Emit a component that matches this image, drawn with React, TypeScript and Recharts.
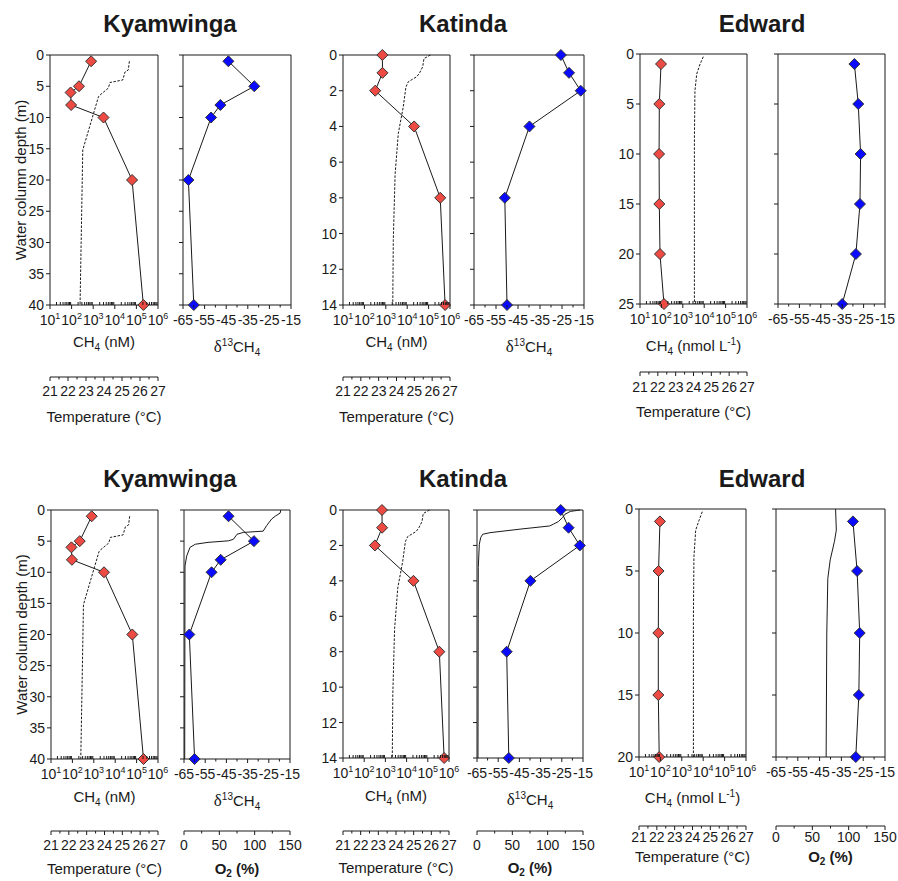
import type { ReactNode } from 'react';
import { ScatterChart, Scatter, XAxis, YAxis, ReferenceLine, Label } from 'recharts';

const FONT = 'Arial, "Liberation Sans", Helvetica, sans-serif';
const INK = '#1a1a1a';
const RED = '#ee4a44';
const BLUE = '#0a0aff';

// ---- Kyamwinga
const kyamCh4Depth = [1, 5, 6, 8, 10, 20, 40];
const kyamCh4 = [800, 220, 90, 95, 3000, 63000, 210000];
const kyamD13Depth = [1, 5, 8, 10, 20, 40];
const kyamD13 = [-44, -32, -47.7, -52, -62.5, -60];
const kyamTempDepth = [1, 2.4, 2.7, 4, 4.4, 5.3, 6.4, 6.7, 15.2, 40];
const kyamTemp = [25.41, 25.35, 25.17, 25.04, 24.33, 24.24, 23.78, 23.69, 22.82, 22.67];
const kyamO2Depth = [0, 0.5, 1, 1.45, 2.5, 3.4, 3.6, 3.9, 4.7, 4.95, 5.2, 5.5, 6, 7.4, 9, 40];
const kyamO2 = [137, 136, 129, 124, 117, 112, 84, 75, 70, 63, 34, 16, 8.5, 3.8, 1.4, 1];

// ---- Katinda
const katDepth = [0, 1, 2, 4, 8, 14];
const katCh4 = [690, 700, 320, 21000, 350000, 590000];
const katD13 = [-25.5, -21.8, -16.5, -39.8, -51, -50];
const katTempDepth = [0, 0.2, 0.66, 1.03, 1.22, 1.5, 1.79, 2.9, 4.4, 6.7, 10.4, 14];
const katTemp = [25.9, 25.54, 25.47, 25.28, 25.13, 24.66, 24.53, 24.38, 24.1, 23.92, 23.82, 23.79];
const katO2Depth = [0, 0.08, 0.24, 0.43, 0.66, 0.8, 0.9, 1.08, 1.28, 1.37, 1.56, 1.93, 3.24, 14];
const katO2 = [146, 132, 124.5, 121, 115, 108, 103, 61, 18.4, 8, 5.2, 3.3, 1.8, 1.4];

// ---- Edward
const edTopDepth = [1, 5, 10, 15, 20, 25];
const edTopCh4 = [96, 80, 78, 80, 86, 132];
const edTopD13 = [-29.3, -27.5, -26.4, -26.7, -28.6, -35];
const edTopTempDepth = [0.27, 1, 2, 3.7, 8.7, 25];
const edBotDepth = [1, 5, 10, 15, 20];
const edBotCh4 = [95, 82, 80, 80, 88];
const edBotD13 = [-29.7, -27.8, -26.6, -27, -28.4];
const edBotTempDepth = [0.22, 0.9, 1.7, 3.85, 9, 20];
const edTemp = [24.55, 24.37, 24.18, 24.08, 24.05, 24.05];
const edO2Depth = [0, 1.7, 2.6, 4.1, 5.6, 10, 20];
const edO2 = [82, 83, 80.5, 74.6, 71.3, 69.9, 69];

// ---- ticks
const kyamYTicks = [0, 5, 10, 15, 20, 25, 30, 35, 40];
const katYTicks = [0, 2, 4, 6, 8, 10, 12, 14];
const edTopYTicks = [0, 5, 10, 15, 20, 25];
const edBotYTicks = [0, 5, 10, 15, 20];
const ch4Major = [10, 100, 1000, 10000, 100000, 1000000];
const d13Major = [-65, -55, -45, -35, -25, -15];
const tempMajor = [21, 22, 23, 24, 25, 26, 27];
const o2Major = [0, 50, 100, 150];

const ch4Ticks: number[] = [];
for (let e = 1; e <= 5; e++) for (let k = 1; k <= 9; k++) ch4Ticks.push(k * 10 ** e);
ch4Ticks.push(1000000);
const d13Ticks = [-65, -60, -55, -50, -45, -40, -35, -30, -25, -20, -15];
const tempTicks = [21, 21.5, 22, 22.5, 23, 23.5, 24, 24.5, 25, 25.5, 26, 26.5, 27];
const o2Ticks = [0, 25, 50, 75, 100, 125, 150];

const txt = { fontFamily: FONT, fill: INK };

const pts = (depth: number[], vals: number[]) => depth.map((d, i) => ({ d, v: vals[i] }));

function Diamond(props: any) {
  const { cx, cy, fill } = props;
  const r = 5.5;
  return (
    <polygon
      points={`${cx},${cy - r} ${cx + r},${cy} ${cx},${cy + r} ${cx - r},${cy}`}
      fill={fill}
      stroke="#333"
      strokeWidth={1}
    />
  );
}

const NoDot = () => <g />;
const DiamondShape = (p: any) => <Diamond {...p} />;

function LogTick({ x, y, payload }: any) {
  const idx = ch4Major.indexOf(payload.value);
  if (idx < 0) return <line x1={x} x2={x} y1={y} y2={y - 3} stroke={INK} />;
  return (
    <g>
      <line x1={x} x2={x} y1={y} y2={y + 4} stroke={INK} />
      <text x={x} y={y + 20} textAnchor="middle" fontSize={14} {...txt}>
        10<tspan dy={-6} fontSize={9}>{idx + 1}</tspan>
      </text>
    </g>
  );
}

const linTick = (majors: number[], dy: number) => ({ x, y, payload }: any) => {
  const major = majors.includes(payload.value);
  return (
    <g>
      <line x1={x} x2={x} y1={y} y2={y + (major ? 4 : 2.5)} stroke={INK} />
      {major && (
        <text x={x} y={y + dy} textAnchor="middle" fontSize={14} {...txt}>
          {payload.value}
        </text>
      )}
    </g>
  );
};

const yTick = (labels: boolean) => ({ x, y, payload }: any) => (
  <g>
    <line x1={x - 4} x2={x} y1={y} y2={y} stroke={INK} />
    {labels && (
      <text x={x - 6} y={y + 5} textAnchor="end" fontSize={14} {...txt}>
        {payload.value}
      </text>
    )}
  </g>
);

const axisTitle = (node: ReactNode, dy: number, bold = false) => (props: any) => {
  const vb = props.viewBox;
  return (
    <text x={vb.x + vb.width / 2} y={vb.y + dy} textAnchor="middle" fontSize={15} fontWeight={bold ? 700 : 400} {...txt}>
      {node}
    </text>
  );
};

const depthTitle = (props: any) => {
  const vb = props.viewBox;
  const cx = vb.x + 20;
  const cy = vb.y + vb.height / 2;
  return (
    <text x={cx} y={cy} transform={`rotate(-90 ${cx} ${cy})`} textAnchor="middle" dominantBaseline="central" fontSize={15} {...txt}>
      Water column depth (m)
    </text>
  );
};

const CH4_NM = (
  <>
    CH<tspan dy={4} fontSize={10}>4</tspan>
    <tspan dy={-4}> (nM)</tspan>
  </>
);
const CH4_NMOL = (
  <>
    CH<tspan dy={4} fontSize={10}>4</tspan>
    <tspan dy={-4}> (nmol L</tspan>
    <tspan dy={-6} fontSize={10}>-1</tspan>
    <tspan dy={6}>)</tspan>
  </>
);
const D13 = (
  <>
    <tspan fontFamily='"Liberation Serif", "DejaVu Serif", serif' fontSize={17}>δ</tspan>
    <tspan dy={-6} fontSize={10}>13</tspan>
    <tspan dy={6}>CH</tspan>
    <tspan dy={4} fontSize={10}>4</tspan>
  </>
);
const O2_PCT = (
  <>
    O<tspan dy={3} fontSize={10}>2</tspan>
    <tspan dy={-3}> (%)</tspan>
  </>
);

type Sub = {
  x: number; y: number; w: number; h: number;
  kind: 'ch4' | 'd13';
  yTicks: number[]; yLabels: boolean; yTitle?: boolean;
  depth: number[]; vals: number[];
  exDepth?: number[]; exVals?: number[];
  gap: number; mainDy: number; exTickDy?: number; exTitleDy?: number;
  title: ReactNode;
};

function Profile({ c }: { c: Sub }) {
  const YW = c.kind === 'ch4' ? 50 : 10;
  const mTop = 10;
  const mRight = 12;
  const hasEx = !!c.exDepth;
  const exH = hasEx ? 52 : 0;
  const width = YW + c.w + mRight;
  const height = mTop + c.h + c.gap + exH;
  const isCh4 = c.kind === 'ch4';
  const yMax = c.yTicks[c.yTicks.length - 1];
  const xMax = isCh4 ? 1000000 : -15;

  return (
    <div style={{ position: 'absolute', left: c.x - YW, top: c.y - mTop }}>
      <ScatterChart width={width} height={height} margin={{ top: mTop, right: mRight, bottom: 0, left: 0 }}>
        <XAxis
          xAxisId={0}
          type="number"
          dataKey="v"
          scale={isCh4 ? 'log' : 'linear'}
          domain={isCh4 ? [10, 1000000] : [-65, -15]}
          ticks={isCh4 ? ch4Ticks : d13Ticks}
          interval={0}
          tickLine={false}
          tickSize={0}
          tickMargin={0}
          height={c.gap}
          axisLine={{ stroke: INK }}
          tick={isCh4 ? LogTick : linTick(d13Major, 20)}
          label={<Label content={axisTitle(c.title, c.mainDy)} />}
        />
        {hasEx && (
          <XAxis
            xAxisId={1}
            type="number"
            dataKey="v"
            domain={isCh4 ? [21, 27] : [0, 150]}
            ticks={isCh4 ? tempTicks : o2Ticks}
            interval={0}
            tickLine={false}
            tickSize={0}
            tickMargin={0}
            height={exH}
            axisLine={{ stroke: INK }}
            tick={linTick(isCh4 ? tempMajor : o2Major, c.exTickDy ?? 19)}
            label={
              <Label
                content={axisTitle(isCh4 ? 'Temperature (°C)' : O2_PCT, c.exTitleDy ?? 45, !isCh4)}
              />
            }
          />
        )}
        <YAxis
          yAxisId={0}
          type="number"
          dataKey="d"
          domain={[0, yMax]}
          reversed
          ticks={c.yTicks}
          interval={0}
          width={YW}
          tickLine={false}
          tickSize={0}
          tickMargin={0}
          axisLine={{ stroke: INK }}
          tick={yTick(c.yLabels)}
          label={c.yTitle ? <Label content={depthTitle} /> : undefined}
        />
        <ReferenceLine xAxisId={0} yAxisId={0} y={0} stroke={INK} strokeWidth={1} />
        <ReferenceLine xAxisId={0} yAxisId={0} x={xMax} stroke={INK} strokeWidth={1} />
        {hasEx && (
          <Scatter
            data={pts(c.exDepth!, c.exVals!)}
            xAxisId={1}
            yAxisId={0}
            fill="none"
            shape={NoDot}
            line={{
              stroke: INK,
              strokeWidth: 1,
              strokeDasharray: isCh4 ? '2.5 1.5' : undefined,
            }}
            isAnimationActive={false}
          />
        )}
        <Scatter
          data={pts(c.depth, c.vals)}
          xAxisId={0}
          yAxisId={0}
          fill={isCh4 ? RED : BLUE}
          shape={DiamondShape}
          line={{ stroke: INK, strokeWidth: 1 }}
          isAnimationActive={false}
        />
      </ScatterChart>
    </div>
  );
}

const SUBS: Sub[] = [
  // top row
  { x: 50, y: 55, w: 108, h: 250, kind: 'ch4', yTicks: kyamYTicks, yLabels: true, yTitle: true,
    depth: kyamCh4Depth, vals: kyamCh4, exDepth: kyamTempDepth, exVals: kyamTemp,
    gap: 72, mainDy: 42, exTickDy: 19, exTitleDy: 45, title: CH4_NM },
  { x: 183, y: 55, w: 108, h: 250, kind: 'd13', yTicks: kyamYTicks, yLabels: false,
    depth: kyamD13Depth, vals: kyamD13, gap: 60, mainDy: 47, title: D13 },
  { x: 343, y: 55, w: 107, h: 250, kind: 'ch4', yTicks: katYTicks, yLabels: true,
    depth: katDepth, vals: katCh4, exDepth: katTempDepth, exVals: katTemp,
    gap: 72, mainDy: 42, exTickDy: 19, exTitleDy: 45, title: CH4_NM },
  { x: 474, y: 55, w: 110, h: 250, kind: 'd13', yTicks: katYTicks, yLabels: false,
    depth: katDepth, vals: katD13, gap: 60, mainDy: 47, title: D13 },
  { x: 640, y: 54, w: 107, h: 250, kind: 'ch4', yTicks: edTopYTicks, yLabels: true,
    depth: edTopDepth, vals: edTopCh4, exDepth: edTopTempDepth, exVals: edTemp,
    gap: 68, mainDy: 47, exTickDy: 20, exTitleDy: 45, title: CH4_NMOL },
  { x: 778, y: 54, w: 107, h: 250, kind: 'd13', yTicks: edTopYTicks, yLabels: false,
    depth: edTopDepth, vals: edTopD13, gap: 60, mainDy: 47, title: null },
  // bottom row
  { x: 51, y: 510, w: 107, h: 249, kind: 'ch4', yTicks: kyamYTicks, yLabels: true, yTitle: true,
    depth: kyamCh4Depth, vals: kyamCh4, exDepth: kyamTempDepth, exVals: kyamTemp,
    gap: 72, mainDy: 43, exTickDy: 19, exTitleDy: 43, title: CH4_NM },
  { x: 184, y: 510, w: 106, h: 249, kind: 'd13', yTicks: kyamYTicks, yLabels: false,
    depth: kyamD13Depth, vals: kyamD13, exDepth: kyamO2Depth, exVals: kyamO2,
    gap: 72, mainDy: 47, exTickDy: 19, exTitleDy: 43, title: D13 },
  { x: 343, y: 510, w: 106, h: 248, kind: 'ch4', yTicks: katYTicks, yLabels: true,
    depth: katDepth, vals: katCh4, exDepth: katTempDepth, exVals: katTemp,
    gap: 73, mainDy: 43, exTickDy: 19, exTitleDy: 42, title: CH4_NM },
  { x: 477, y: 510, w: 106, h: 248, kind: 'd13', yTicks: katYTicks, yLabels: false,
    depth: katDepth, vals: katD13, exDepth: katO2Depth, exVals: katO2,
    gap: 73, mainDy: 47, exTickDy: 19, exTitleDy: 42, title: D13 },
  { x: 639, y: 509, w: 107, h: 248, kind: 'ch4', yTicks: edBotYTicks, yLabels: true,
    depth: edBotDepth, vals: edBotCh4, exDepth: edBotTempDepth, exVals: edTemp,
    gap: 69, mainDy: 46, exTickDy: 16, exTitleDy: 36, title: CH4_NMOL },
  { x: 776, y: 509, w: 109, h: 248, kind: 'd13', yTicks: edBotYTicks, yLabels: false,
    depth: edBotDepth, vals: edBotD13, exDepth: edO2Depth, exVals: edO2,
    gap: 69, mainDy: 47, exTickDy: 16, exTitleDy: 36, title: null },
];

const TITLES = [
  { text: 'Kyamwinga', x: 170, y: 32 },
  { text: 'Katinda', x: 463, y: 32 },
  { text: 'Edward', x: 762, y: 32 },
  { text: 'Kyamwinga', x: 170, y: 487 },
  { text: 'Katinda', x: 463, y: 487 },
  { text: 'Edward', x: 762, y: 487 },
];

export default function App() {
  return (
    <div style={{ position: 'absolute', left: 0, top: 0, width: 898, height: 881, background: '#fff' }}>
      <svg width={898} height={881} style={{ position: 'absolute', left: 0, top: 0 }}>
        {TITLES.map((t, i) => (
          <text key={i} x={t.x} y={t.y} textAnchor="middle" fontSize={24} fontWeight={700} {...txt}>
            {t.text}
          </text>
        ))}
      </svg>
      {SUBS.map((c, i) => (
        <Profile key={i} c={c} />
      ))}
    </div>
  );
}
